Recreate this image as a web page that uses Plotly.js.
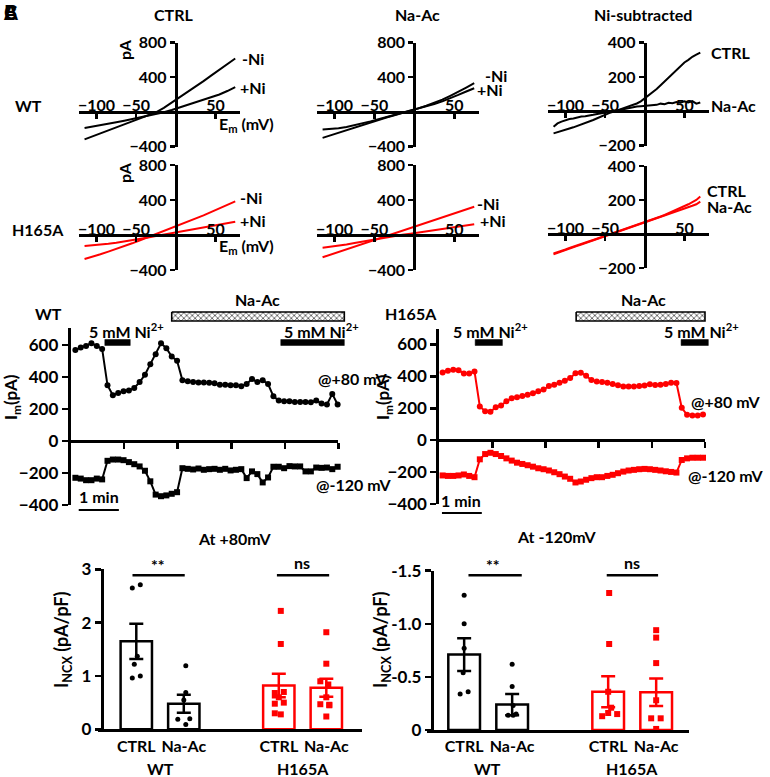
<!DOCTYPE html>
<html><head><meta charset="utf-8">
<script src="https://cdn.plot.ly/plotly-3.0.1.min.js"></script>
<style>html,body{margin:0;padding:0;background:#fff}#chart{width:770px;height:777px}</style>
</head><body><div id="chart"></div>
<script>
// ================= DATA =================
// I-V ramps (mV -> pA)
const ivVoltage = [-115,-105,-95,-85,-75,-65,-55,-45,-35,-25,-15,-5,5,15,25,35,45,55,65,75];
const wtCtrlMinusNi = [-318,-285,-250,-215,-180,-145,-110,-75,-45,-5,45,105,165,225,290,355,420,485,550,615];
const wtCtrlPlusNi  = [-187,-172,-155,-138,-120,-102,-84,-66,-48,-28,-5,22,52,80,105,135,165,200,240,285];
const wtNaAcMinusNi = [-300,-270,-240,-210,-180,-150,-120,-90,-65,-40,-15,10,40,70,105,140,185,230,280,330];
const wtNaAcPlusNi  = [-205,-200,-190,-175,-155,-135,-110,-85,-60,-35,-12,12,35,60,90,120,155,195,235,272];
const hCtrlMinusNi  = [-275,-250,-220,-190,-160,-130,-95,-60,-25,10,45,80,115,150,185,225,265,305,345,385];
const hCtrlPlusNi   = [-125,-118,-110,-100,-88,-75,-60,-45,-28,-12,5,20,35,50,65,82,100,118,135,152];
const hNaAcMinusNi  = [-255,-225,-195,-165,-135,-105,-75,-45,-15,15,45,75,105,135,165,195,225,258,290,322];
const hNaAcPlusNi   = [-145,-135,-122,-108,-92,-75,-58,-42,-26,-12,2,15,28,42,55,70,85,100,112,122];

const ivVoltageFine = [-115,-110,-105,-100,-95,-90,-85,-80,-75,-70,-65,-60,-55,-50,-45,-40,-35,-30,-25,-20,-15,-10,-5,0,5,10,15,20,25,30,35,40,45,50,55,60,65,70];
const wtSubCtrl = [-128,-122,-114,-108,-100,-93,-85,-76,-68,-60,-50,-40,-30,-18,-10,-3,5,12,20,28,36,46,58,76,92,110,130,152,174,196,218,245,262,285,300,318,330,342];
const wtSubNaAc = [-90,-70,-60,-52,-45,-42,-35,-30,-28,-22,-20,-15,-12,-8,-5,0,5,10,14,20,22,28,30,32,35,40,38,45,42,50,48,55,50,58,52,60,45,52];
const hSubCtrl = [-115,-108,-100,-91,-82,-75,-68,-60,-52,-43,-35,-27,-18,-10,-2,5,12,20,28,35,43,51,60,68,77,86,95,103,112,122,132,142,152,163,175,188,200,220];
const hSubNaAc = [-120,-111,-103,-94,-85,-78,-70,-62,-54,-46,-38,-29,-20,-12,-4,4,12,20,28,35,42,50,58,66,75,83,92,100,108,116,125,133,142,150,158,166,175,190];

// Time courses (s -> pA)
const timeWT = [7,15,23,31,39,47,55,63,71,79,87,95,103,111,119,127,135,143,151,159,167,175,183,191,199,207,215,223,231,239,247,255,263,271,279,287,295,303,311,319,327,335,343,351,359,367,375,383,391,399];
const wtPlus80 = [569,584,594,610,594,575,348,286,300,310,315,331,368,414,480,542,610,580,528,501,379,373,368,366,366,364,360,352,352,348,348,342,356,387,368,379,356,279,253,248,248,244,244,244,242,253,234,228,294,228];
const wtMinus120 = [-230,-235,-245,-245,-235,-240,-124,-116,-116,-120,-132,-145,-159,-186,-252,-335,-345,-340,-330,-320,-170,-174,-178,-172,-180,-176,-174,-180,-174,-184,-180,-176,-232,-190,-207,-259,-228,-161,-161,-170,-157,-159,-159,-190,-190,-166,-168,-166,-176,-161];
const timeH = [5,13,21,29,37,45,53,61,69,77,85,93,101,109,117,125,133,141,149,157,165,173,181,189,197,205,213,221,229,237,245,253,261,269,277,285,293,301,309,317,325,333,341,349,357,365,373,381,389,397];
const hPlus80 = [424,435,441,439,418,418,431,211,182,178,207,217,244,263,269,277,284,294,306,317,339,348,360,373,389,420,422,404,377,368,364,360,352,344,337,337,337,339,342,350,346,348,352,360,358,203,159,155,155,161];
const hMinus120 = [-221,-224,-224,-221,-215,-224,-232,-120,-87,-79,-87,-99,-114,-128,-141,-149,-157,-166,-176,-182,-190,-201,-213,-228,-242,-265,-259,-248,-238,-232,-232,-224,-217,-207,-197,-190,-186,-182,-180,-182,-186,-190,-195,-199,-203,-124,-114,-110,-110,-110];

// Perfusion periods (s)
const wtNiPeriods = [[51,89],[314,409]];
const wtNaAcPeriod = [151,409];
const hNiPeriods = [[54,95],[364,405]];
const hNaAcPeriod = [206,400];
const scaleBarStart = [12,4];
const scaleBarLength = 60;

// Bar summaries (pA/pF), order: WT CTRL, WT Na-Ac, H165A CTRL, H165A Na-Ac
const groups = ['WT','H165A'];
const conditions = ['CTRL','Na-Ac'];
const plus80Mean = [1.65,0.48,0.82,0.78];
const plus80Sem  = [0.33,0.17,0.22,0.17];
const plus80Points = [
  [2.65,2.71,1.37,1.22,0.96,1.00],
  [1.19,0.69,0.55,0.19,0.09,0.20],
  [2.22,1.60,0.68,0.70,0.60,0.50,0.48,0.28,0.30],
  [1.82,1.23,0.90,0.84,0.60,0.47,0.46,0.24,0.45]
];
const minus120Mean = [-0.71,-0.24,-0.36,-0.355];
const minus120Sem  = [0.155,0.10,0.145,0.13];
const minus120Points = [
  [-1.27,-1.00,-0.77,-0.54,-0.34,-0.36],
  [-0.62,-0.41,-0.23,-0.14,-0.15,-0.14],
  [-1.29,-0.81,-0.36,-0.21,-0.16,-0.15,-0.13],
  [-0.94,-0.87,-0.63,-0.28,-0.11,-0.11,-0.01]
];
const sigLabels = ['**','ns'];

// ================= LAYOUT HELPERS =================
const W = 770, H = 777;
const BLACK = '#000', RED = '#ff0000';
const FONT = 'Lato, "Open Sans", sans-serif';
const fnt = (s, c) => ({family: FONT, size: s, color: c || BLACK, weight: 'bold'});
const fx = p => p / W;
const fy = p => 1 - p / H;
const domX = (a, b) => [fx(a), fx(b)];
const domY = (a, b) => [fy(b), fy(a)];
const axName = (c, n) => c + 'axis' + (n === 1 ? '' : n);
const ref = (c, n) => c + (n === 1 ? '' : n);

const layout = {
  width: W, height: H, margin: {l: 0, r: 0, t: 0, b: 0},
  paper_bgcolor: '#fff', plot_bgcolor: 'rgba(0,0,0,0)',
  showlegend: false, font: fnt(16), annotations: [], shapes: []
};
const traces = [];
function ann(text, xp, yp, opt) {
  layout.annotations.push(Object.assign({
    text, x: fx(xp), y: fy(yp), xref: 'paper', yref: 'paper',
    showarrow: false, xanchor: 'center', yanchor: 'middle', font: fnt(16)
  }, opt || {}));
}

// ---------- I-V panels ----------
const ivXRange = [-122, 81];
function ivPanel(n, xpx, ypx, yr, yt) {
  const zeroX = xpx[0] + (0 - ivXRange[0]) / (ivXRange[1] - ivXRange[0]) * (xpx[1] - xpx[0]);
  const zeroY = ypx[1] - (0 - yr[0]) / (yr[1] - yr[0]) * (ypx[1] - ypx[0]);
  layout[axName('x', n)] = {
    domain: domX(xpx[0], xpx[1]), range: ivXRange, anchor: 'free', position: fy(zeroY),
    side: 'top', ticks: 'inside', ticklen: 5, tickwidth: 2.5, tickcolor: BLACK,
    tickvals: [-100, -50, 50], tickfont: fnt(16), ticklabelstandoff: -7,
    showline: true, linewidth: 3, linecolor: BLACK, showgrid: false, zeroline: false, fixedrange: true
  };
  layout[axName('y', n)] = {
    domain: domY(ypx[0], ypx[1]), range: yr, anchor: 'free', position: fx(zeroX),
    side: 'left', ticks: 'outside', ticklen: 5, tickwidth: 2.5, tickcolor: BLACK,
    tickvals: yt, tickfont: fnt(16),
    showline: true, linewidth: 3, linecolor: BLACK, showgrid: false, zeroline: false, fixedrange: true
  };
}
function line(x, y, n, color) {
  traces.push({type: 'scatter', mode: 'lines', x, y, xaxis: ref('x', n), yaxis: ref('y', n),
    line: {color, width: 2}, hoverinfo: 'skip'});
}
ivPanel(1, [79, 240], [42.5, 146.5], [-400, 800], [-400, 400, 800]);
ivPanel(2, [317, 479], [42.5, 146.5], [-400, 800], [-400, 400, 800]);
ivPanel(3, [548, 709], [42.7, 145.7], [-200, 400], [-200, 200, 400]);
ivPanel(4, [79, 240], [165, 270], [-400, 800], [-400, 400, 800]);
ivPanel(5, [317, 479], [165, 270], [-400, 800], [-400, 400, 800]);
ivPanel(6, [548, 709], [166, 268], [-200, 400], [-200, 200, 400]);
line(ivVoltage, wtCtrlMinusNi, 1, BLACK); line(ivVoltage, wtCtrlPlusNi, 1, BLACK);
line(ivVoltage, wtNaAcMinusNi, 2, BLACK); line(ivVoltage, wtNaAcPlusNi, 2, BLACK);
line(ivVoltageFine, wtSubCtrl, 3, BLACK); line(ivVoltageFine, wtSubNaAc, 3, BLACK);
line(ivVoltage, hCtrlMinusNi, 4, RED); line(ivVoltage, hCtrlPlusNi, 4, RED);
line(ivVoltage, hNaAcMinusNi, 5, RED); line(ivVoltage, hNaAcPlusNi, 5, RED);
line(ivVoltageFine, hSubCtrl, 6, RED); line(ivVoltageFine, hSubNaAc, 6, RED);

ann('CTRL', 173, 14); ann('Na-Ac', 417, 14); ann('Ni-subtracted', 643, 14);
ann('WT', 28, 106); ann('H165A', 38, 229);
ann('pA', 125, 50, {textangle: -90}); ann('pA', 125, 173, {textangle: -90});
ann('E<sub>m</sub> (mV)', 217, 125, {xanchor: 'left'}); ann('E<sub>m</sub> (mV)', 217, 246, {xanchor: 'left'});
ann('-Ni', 240, 58, {xanchor: 'left'}); ann('+Ni', 238, 87, {xanchor: 'left'});
ann('-Ni', 483, 76, {xanchor: 'left'}); ann('+Ni', 475, 90, {xanchor: 'left'});
ann('CTRL', 709, 52, {xanchor: 'left'}); ann('Na-Ac', 709, 106, {xanchor: 'left'});
ann('-Ni', 238, 198, {xanchor: 'left'}); ann('+Ni', 238, 220, {xanchor: 'left'});
ann('-Ni', 475, 203, {xanchor: 'left'}); ann('+Ni', 478, 221, {xanchor: 'left'});
ann('CTRL', 705, 190, {xanchor: 'left'}); ann('Na-Ac', 705, 206, {xanchor: 'left'});

// ---------- Time-course panels ----------
function timePanel(n, xpx, ypx, yr) {
  const zeroY = ypx[1] - (0 - yr[0]) / (yr[1] - yr[0]) * (ypx[1] - ypx[0]);
  layout[axName('x', n)] = {
    domain: domX(xpx[0], xpx[1]), range: [0, 400], anchor: 'free', position: fy(zeroY),
    ticks: 'outside', ticklen: 6, tickwidth: 2.5, tickcolor: BLACK, tickvals: [80, 160, 240, 320, 400],
    showticklabels: false, showline: true, linewidth: 3, linecolor: BLACK,
    showgrid: false, zeroline: false, fixedrange: true
  };
  layout[axName('y', n)] = {
    domain: domY(ypx[0], ypx[1]), range: yr, anchor: ref('x', n),
    ticks: 'outside', ticklen: 6, tickwidth: 2.5, tickcolor: BLACK,
    tickvals: [-400, -200, 0, 200, 400, 600], tickfont: fnt(17),
    showline: true, linewidth: 3, linecolor: BLACK, showgrid: false, zeroline: false, fixedrange: true
  };
}
timePanel(7, [70.7, 338.3], [328.3, 505], [-400, 704]);
timePanel(8, [439.3, 705], [329.3, 504], [-400, 695]);
function series(x, y, n, color, symbol) {
  traces.push({type: 'scatter', mode: 'lines+markers', x, y, xaxis: ref('x', n), yaxis: ref('y', n),
    line: {color, width: 2}, marker: {color, size: 6, symbol}, hoverinfo: 'skip', cliponaxis: false});
}
series(timeWT, wtPlus80, 7, BLACK, 'circle'); series(timeWT, wtMinus120, 7, BLACK, 'square');
series(timeH, hPlus80, 8, RED, 'circle'); series(timeH, hMinus120, 8, RED, 'square');

// overlay axes for perfusion bars & scale bar (y in pixel units)
function overlay(n, xpx0, xpxEnd) {
  const pxPerS = (xpx0[1] - xpx0[0]) / 400;
  layout[axName('x', n)] = {domain: domX(xpx0[0], xpxEnd), range: [0, (xpxEnd - xpx0[0]) / pxPerS],
    visible: false, fixedrange: true, anchor: ref('y', n)};
  layout[axName('y', n)] = {domain: domY(290, 520), range: [520, 290], visible: false, fixedrange: true, anchor: ref('x', n)};
}
overlay(9, [70.7, 338.3], 350);
overlay(10, [439.3, 705], 715);
function rect(n, t0, t1, y0, y1, opt) {
  traces.push(Object.assign({type: 'scatter', mode: 'lines', x: [t0, t1, t1, t0, t0], y: [y0, y0, y1, y1, y0],
    xaxis: ref('x', n), yaxis: ref('y', n), fill: 'toself', hoverinfo: 'skip'}, opt));
}
function perfusion(n, niP, naP) {
  niP.forEach(p => rect(n, p[0], p[1], 339.5, 345.5, {fillcolor: BLACK, line: {color: BLACK, width: 0.5}}));
  rect(n, naP[0], naP[1], 312, 321, {fillcolor: '#fff', line: {color: BLACK, width: 1.6},
    fillpattern: {shape: 'x', size: 4, solidity: 0.3, fgcolor: '#222', bgcolor: '#fff'}});
}
perfusion(9, wtNiPeriods, wtNaAcPeriod);
perfusion(10, hNiPeriods, hNaAcPeriod);
traces.push({type: 'scatter', mode: 'lines', x: [scaleBarStart[0], scaleBarStart[0] + scaleBarLength], y: [510, 510],
  xaxis: 'x9', yaxis: 'y9', line: {color: BLACK, width: 2}, hoverinfo: 'skip'});
traces.push({type: 'scatter', mode: 'lines', x: [scaleBarStart[1], scaleBarStart[1] + scaleBarLength], y: [513, 513],
  xaxis: 'x10', yaxis: 'y10', line: {color: BLACK, width: 2}, hoverinfo: 'skip'});

ann('WT', 33, 313, {xanchor: 'left'}); ann('H165A', 383, 313, {xanchor: 'left'});
ann('Na-Ac', 257, 299); ann('Na-Ac', 643, 299);
ann('5 mM Ni<sup>2+</sup>', 87, 331, {xanchor: 'left'}); ann('5 mM Ni<sup>2+</sup>', 282, 331, {xanchor: 'left'});
ann('5 mM Ni<sup>2+</sup>', 451, 331, {xanchor: 'left'}); ann('5 mM Ni<sup>2+</sup>', 662, 331, {xanchor: 'left'});
ann('@+80 mV', 316, 378, {xanchor: 'left'}); ann('@-120 mV', 314, 484, {xanchor: 'left'});
ann('@+80 mV', 689, 401, {xanchor: 'left'}); ann('@-120 mV', 686, 475, {xanchor: 'left'});
ann('1 min', 99, 496); ann('1 min', 461, 500);
ann('I<sub>m</sub>(pA)', 12, 397, {textangle: -90, font: fnt(17)});
ann('I<sub>m</sub>(pA)', 384, 397, {textangle: -90, font: fnt(17)});

// ---------- Bar charts ----------
const barPos = (g, c) => g * 3 + c;
function barPanel(n, xpx, xr, yAxisPx, ypx, yr, yt, ytt) {
  layout[axName('x', n)] = {
    domain: domX(xpx[0], xpx[1]), range: xr, anchor: ref('y', n),
    tickvals: [barPos(0, 0), barPos(0, 1), barPos(1, 0), barPos(1, 1)],
    ticktext: [conditions[0], conditions[1], conditions[0], conditions[1]],
    ticks: '', tickfont: fnt(16), showline: true, linewidth: 3, linecolor: BLACK,
    showgrid: false, zeroline: false, fixedrange: true
  };
  layout[axName('y', n)] = {
    domain: domY(ypx[0], ypx[1]), range: yr, anchor: 'free', position: fx(yAxisPx),
    ticks: 'outside', ticklen: 6, tickwidth: 2.5, tickcolor: BLACK, tickvals: yt, ticktext: ytt,
    tickfont: fnt(17), showline: true, linewidth: 3, linecolor: BLACK,
    showgrid: false, zeroline: false, fixedrange: true
  };
}
barPanel(11, [98, 361.7], [-0.806, 4.745], 101.7, [569.3, 729.3], [0, 3], [0, 1, 2, 3], ['0', '1', '2', '3']);
barPanel(12, [426.7, 689.3], [-0.78, 4.69], 431.7, [570.7, 730], [0, -1.5], [0, -0.5, -1, -1.5], ['0', '-0.5', '-1.0', '-1.5']);

const jitterPx = {
  11: [[-4, 4, 1, -2, -4, 4], [2, 2, 0, -6, 2, 6], [2, 2, -4, 5, 0, 5, -4, 2, -4], [0, 0, -6, 2, 0, -6, 3, 0, 3]],
  12: [[0, 0, 0, -1, -4, 4], [0, 0, 1, -4, 4, 1], [1, 1, 0, 3, 0, 9, -6], [0, 0, 0, 0, -5, 4.5, 0]]
};
function bars(n, means, sems, pts, pxPerUnit) {
  groups.forEach((g, gi) => {
    const color = gi === 0 ? BLACK : RED;
    const idx = [gi * 2, gi * 2 + 1];
    traces.push({type: 'bar', x: [barPos(gi, 0), barPos(gi, 1)], y: idx.map(i => means[i]),
      width: 0.66, xaxis: ref('x', n), yaxis: ref('y', n),
      marker: {color: '#fff', line: {color, width: 2.5}},
      error_y: {type: 'data', array: idx.map(i => sems[i]), visible: true, color, thickness: 2.5, width: 7},
      hoverinfo: 'skip'});
    idx.forEach((i, ci) => {
      traces.push({type: 'scatter', mode: 'markers',
        x: pts[i].map((v, k) => barPos(gi, ci) + (jitterPx[n][i][k] || 0) / pxPerUnit), y: pts[i],
        xaxis: ref('x', n), yaxis: ref('y', n), cliponaxis: false,
        marker: {color, size: gi === 0 ? 5 : 6, symbol: gi === 0 ? 'circle' : 'square'}, hoverinfo: 'skip'});
    });
  });
}
bars(11, plus80Mean, plus80Sem, plus80Points, 47.5);
bars(12, minus120Mean, minus120Sem, minus120Points, 48);
layout.barmode = 'overlay';

function sig(n, x0, x1, y) {
  layout.shapes.push({type: 'line', xref: ref('x', n), yref: ref('y', n), x0, x1, y0: y, y1: y, line: {color: BLACK, width: 2.5}});
}
sig(11, -0.08, 1.02, 2.89); sig(11, 2.96, 4.06, 2.89);
sig(12, 0.09, 1.2, -1.456); sig(12, 2.97, 4.04, -1.456);
ann(sigLabels[0], 158, 564); ann(sigLabels[1], 302, 562);
ann(sigLabels[0], 493, 564); ann(sigLabels[1], 632, 562);
ann('At +80mV', 235, 538); ann('At -120mV', 557, 536);
ann(groups[0], 160, 768); ann(groups[1], 303, 768);
ann(groups[0], 487, 768); ann(groups[1], 632, 768);
ann('I<sub>NCX</sub> (pA/pF)', 62, 640, {textangle: -90, font: fnt(18)});
ann('I<sub>NCX</sub> (pA/pF)', 381, 640, {textangle: -90, font: fnt(18)});

// overlapping panel letters
['A', 'B', 'C'].forEach(l => ann(l, 10, 12, {font: fnt(20)}));

Plotly.newPlot('chart', traces, layout, {displayModeBar: false, staticPlot: true});
</script></body></html>
